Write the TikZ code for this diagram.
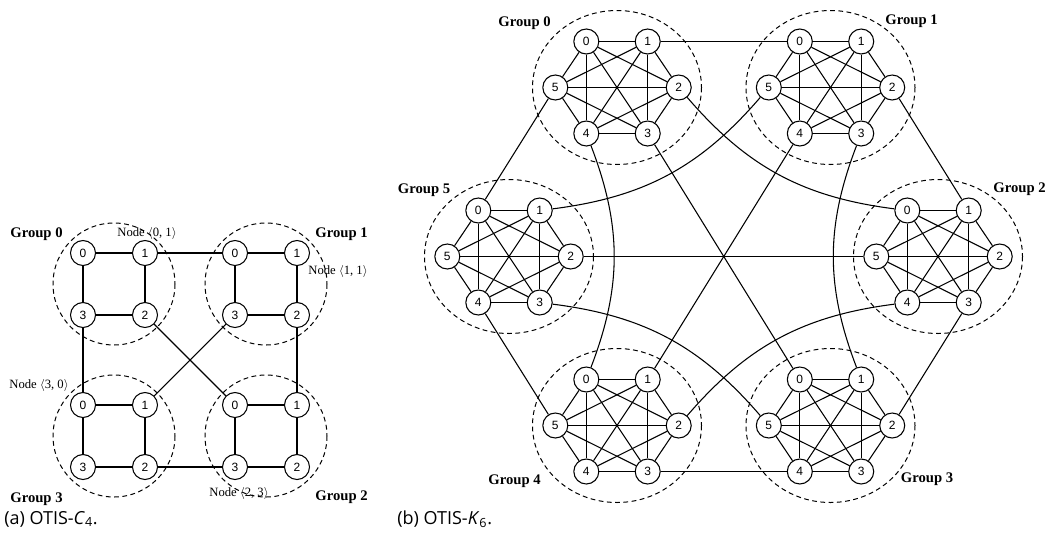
\documentclass[tikz,border=0pt]{standalone}
\usepackage{fontspec}
\setmainfont{Liberation Serif}
\newfontfamily\numfont{Liberation Sans}
\newfontfamily\capfont{Open Sans}
\begin{document}
\begin{tikzpicture}[x=0.75pt,y=-0.75pt,
  vtx/.style={circle,draw,line width=0.8pt,fill=white,minimum size=18.75pt,inner sep=0pt,font=\numfont\fontsize{9}{9}\selectfont},
  grp/.style={dash pattern=on 3.6pt off 2.6pt,line width=0.75pt},
  lnk/.style={line width=0.8pt},
  glabel/.style={inner sep=0pt,font=\bfseries\fontsize{11}{11}\selectfont},
  nlabel/.style={inner sep=0pt,font=\fontsize{9.5}{9.5}\selectfont},
  capt/.style={anchor=west,inner sep=0pt,font=\capfont\fontsize{13.5}{13.5}\selectfont}]
\useasboundingbox (0,0) rectangle (1049,532);

% ---------- (a) OTIS-C4 ----------
\foreach \g/\ox/\oy in {0/83/253,1/235/253,2/235/405,3/83/405}{
  \draw[grp] (\ox+31,\oy+31) circle[radius=61];
  \node[vtx] (a\g0) at (\ox,\oy) {0};
  \node[vtx] (a\g1) at (\ox+62,\oy) {1};
  \node[vtx] (a\g2) at (\ox+62,\oy+62) {2};
  \node[vtx] (a\g3) at (\ox,\oy+62) {3};
  \draw[lnk] (a\g0) -- (a\g1) -- (a\g2) -- (a\g3) -- (a\g0);
}
\draw[lnk] (a01) -- (a10);
\draw[lnk] (a02) -- (a20);
\draw[lnk] (a03) -- (a30);
\draw[lnk] (a12) -- (a21);
\draw[lnk] (a13) -- (a31);
\draw[lnk] (a23) -- (a32);

\node[glabel] (la0) at (36.5,234) {Group 0};
\node[glabel] (la1) at (341.5,234) {Group 1};
\node[glabel] (la3) at (36.5,499) {Group 3};
\node[glabel] (la2) at (341.5,497) {Group 2};
\node[nlabel] (na01) at (147,233) {Node \(\langle\)0, 1\(\rangle\)};
\node[nlabel] (na11) at (338,271) {Node \(\langle\)1, 1\(\rangle\)};
\node[nlabel] (na30) at (39,385) {Node \(\langle\)3, 0\(\rangle\)};
\node[nlabel] (na23) at (239,493) {Node \(\langle\)2, 3\(\rangle\)};
\node[capt] (capa) at (4,519) {(a) OTIS-\textit{C}\textsubscript{4}.};

% ---------- (b) OTIS-K6 ----------
\foreach \g/\cx/\cy in {0/617/87.5,1/830.5/87.5,2/938/256.5,3/830.5/425.5,4/617/425.5,5/509/256.5}{
  \draw[grp] (\cx,\cy) ellipse[x radius=84.5,y radius=77];
  \foreach \p/\dx/\dy in {0/-30.7/-46,1/30.7/-46,2/61.7/0,3/30.7/46,4/-30.7/46,5/-61.7/0}
    \node[vtx] (b\g\p) at (\cx+\dx,\cy+\dy) {\p};
}
\foreach \g in {0,...,5}{
  \foreach \i/\s in {0/1,1/2,2/3,3/4,4/5}{
    \foreach \j in {\s,...,5}
      \draw[lnk] (b\g\i) -- (b\g\j);
  }
}
% straight inter-group links
\draw[lnk] (b01) -- (b10);
\draw[lnk] (b03) -- (b30);
\draw[lnk] (b05) -- (b50);
\draw[lnk] (b12) -- (b21);
\draw[lnk] (b14) -- (b41);
\draw[lnk] (b23) -- (b32);
\draw[lnk] (b25) -- (b52);
\draw[lnk] (b34) -- (b43);
\draw[lnk] (b45) -- (b54);
% curved inter-group links
\draw[lnk] (b02) to[bend right=21] (b20);
\draw[lnk] (b15) to[bend left=21] (b51);
\draw[lnk] (b04) to[bend left=21] (b40);
\draw[lnk] (b13) to[bend right=21] (b31);
\draw[lnk] (b53) to[bend left=21] (b35);
\draw[lnk] (b42) to[bend left=21] (b24);

\node[glabel] (lb0) at (524.5,23) {Group 0};
\node[glabel] (lb1) at (911.5,21) {Group 1};
\node[glabel] (lb5) at (424,190) {Group 5};
\node[glabel] (lb2) at (1019.5,189) {Group 2};
\node[glabel] (lb4) at (514.5,481) {Group 4};
\node[glabel] (lb3) at (927,479) {Group 3};
\node[capt] (capb) at (397,519) {(b) OTIS-\textit{K}\textsubscript{6}.};
\end{tikzpicture}
\end{document}
